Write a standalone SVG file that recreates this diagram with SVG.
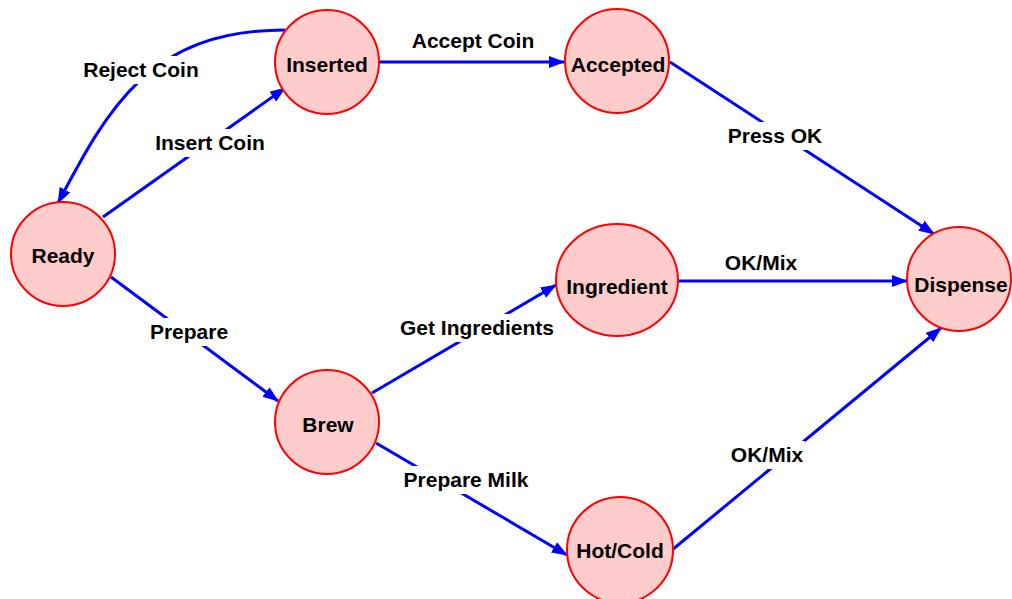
<svg xmlns="http://www.w3.org/2000/svg" width="1012" height="599" viewBox="0 0 1012 599">
<style>
.node{fill:#ffcccc;stroke:#ff0000;stroke-width:2}
.nt{font-family:"Liberation Sans",Arial,sans-serif;font-weight:bold;font-size:21px;fill:#000;text-anchor:middle}
.edge{fill:none;stroke:#0000ff;stroke-width:3;marker-end:url(#arr)}
.lbg{fill:#ffffff}
.lt{font-family:"Liberation Sans",Arial,sans-serif;font-weight:bold;font-size:21px;fill:#000;text-anchor:middle}
</style>
<defs>
<marker id="arr" viewBox="0 0 16 12" refX="15" refY="6" markerWidth="16" markerHeight="12" markerUnits="userSpaceOnUse" orient="auto">
<path d="M0,0 L16,6 L0,12 Z" fill="#0000ff"/>
</marker>
</defs>
<rect width="1012" height="599" fill="#ffffff"/>
<g id="connectors">
<path class="edge" d="M285,30 C150,30 108,108 58,203"/>
<path class="edge" d="M103,217 L285,88"/>
<path class="edge" d="M380,62 L564,62"/>
<path class="edge" d="M670,62 L934,234"/>
<path class="edge" d="M678,281 L907,281"/>
<path class="edge" d="M111,277 L278,401"/>
<path class="edge" d="M372,393 L556,285"/>
<path class="edge" d="M376,443 L567,555"/>
<path class="edge" d="M672,550 L941,328"/>
<g id="labels">
<rect class="lbg" x="80" y="56" width="122" height="28"/>
<text class="lt" x="141" y="77">Reject Coin</text>
<rect class="lbg" x="152" y="129" width="116" height="28"/>
<text class="lt" x="210" y="150">Insert Coin</text>
<rect class="lbg" x="409" y="27" width="128" height="26"/>
<text class="lt" x="473" y="48">Accept Coin</text>
<rect class="lbg" x="725" y="122" width="100" height="28"/>
<text class="lt" x="775" y="143">Press OK</text>
<rect class="lbg" x="723" y="250" width="76" height="26"/>
<text class="lt" x="761" y="270">OK/Mix</text>
<rect class="lbg" x="147" y="318" width="84" height="28"/>
<text class="lt" x="189" y="339">Prepare</text>
<rect class="lbg" x="397" y="314" width="160" height="28"/>
<text class="lt" x="477" y="335">Get Ingredients</text>
<rect class="lbg" x="401" y="466" width="130" height="28"/>
<text class="lt" x="466" y="487">Prepare Milk</text>
<rect class="lbg" x="729" y="441" width="76" height="28"/>
<text class="lt" x="767" y="462">OK/Mix</text>
</g>
</g>
<g id="ready"><circle class="node" cx="63" cy="254" r="52"/><text class="nt" x="63" y="263">Ready</text></g>
<g id="inserted"><circle class="node" cx="327" cy="62" r="52"/><text class="nt" x="327" y="72">Inserted</text></g>
<g id="accepted"><circle class="node" cx="617" cy="61" r="52"/><text class="nt" x="618" y="72">Accepted</text></g>
<g id="ingredient"><ellipse class="node" cx="617" cy="280" rx="61" ry="56"/><text class="nt" x="617" y="294">Ingredient</text></g>
<g id="dispense"><circle class="node" cx="959" cy="279" r="52"/><text class="nt" x="961" y="292">Dispense</text></g>
<g id="brew"><circle class="node" cx="327" cy="422" r="52"/><text class="nt" x="328" y="432">Brew</text></g>
<g id="hotcold"><circle class="node" cx="620" cy="550" r="53"/><text class="nt" x="620" y="558">Hot/Cold</text></g>
</svg>
